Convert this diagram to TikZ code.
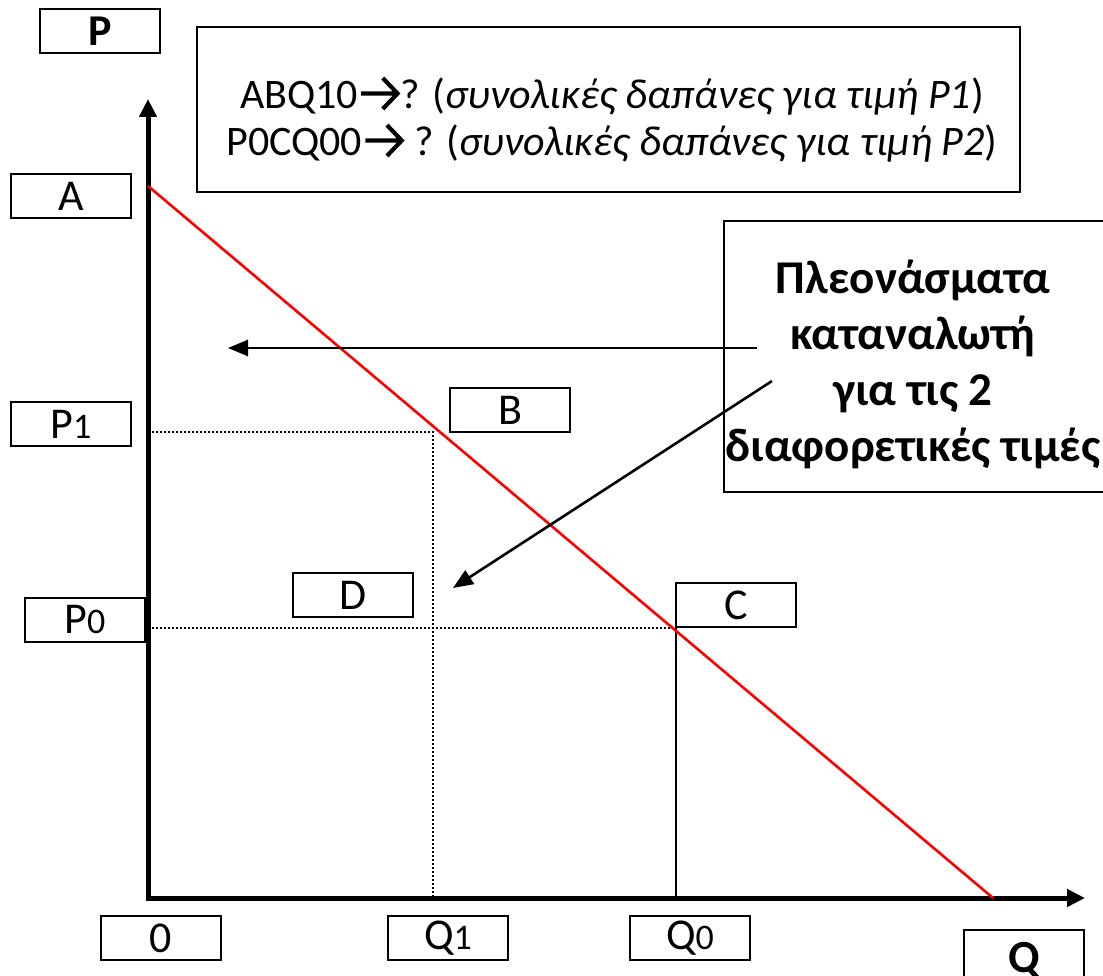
\documentclass[tikz,border=0pt]{standalone}
\usepackage{fontspec}
\setmainfont{Carlito}
\usetikzlibrary{arrows.meta}
\newcommand\sdig[1]{{\fontsize{36}{40}\selectfont #1}}
\newcommand\thickarr{\hspace{1pt}\tikz[baseline=0pt,x=1.4pt,y=1.4pt]{\draw[line width=4.2pt,line cap=butt,line join=miter] (0,10.5)--(26,10.5) (15.5,21.5)--(26,10.5)--(15.5,-0.5);}\hspace{1pt}}
\begin{document}
\begin{tikzpicture}[x=1pt,y=-1pt,
  lbl/.style={draw, line width=2pt, inner sep=0pt, minimum width=120pt, minimum height=44pt,
              font=\fontsize{44}{48}\selectfont},
  bigbox/.style={draw, line width=2pt, inner sep=0pt},
  axis/.style={line width=5pt, line join=miter, {Triangle[length=18pt,width=17pt]}-{Triangle[length=18pt,width=17pt]}},
  guide/.style={line width=1.6pt, dash pattern=on 2pt off 2pt},
  pointer/.style={line width=2.6pt, -{Triangle[length=20pt,width=16pt]}},
  demand/.style={red, line width=2.6pt}
]
\useasboundingbox (0,0) rectangle (1103,976);
\clip (0,0) rectangle (1103,976);

% axes
\coordinate (O) at (148,898);
\coordinate (Ytip) at (148,99);
\coordinate (Xtip) at (1085,898);
\draw[axis] (Ytip) -- (O) -- (Xtip);

% demand curve and reference points
\coordinate (Acur) at (148,186);
\coordinate (Qmax) at (993,898);
\coordinate (Bpt) at (433,432);
\coordinate (Cpt) at (676,628);
\coordinate (P1ax) at (148,432);
\coordinate (P0ax) at (148,628);
\coordinate (Q1ax) at (433,898);
\coordinate (Q0ax) at (676,898);

\draw[guide] (P1ax) -- (Bpt) -- (Q1ax);
\draw[guide] (P0ax) -- (Cpt);
\draw[line width=2pt] (Cpt) -- (Q0ax);
\draw[demand] (Acur) -- (Qmax);

% label boxes
\node[lbl, font=\fontsize{44}{48}\selectfont\bfseries] (Plab) at (100,31) {P};
\node[lbl] (Alab) at (71,196) {A};
\node[lbl] (P1lab) at (71,424) {P\sdig{1}};
\node[lbl] (Blab) at (510,410) {B};
\node[lbl] (Dlab) at (353,595) {D};
\node[lbl] (P0lab) at (85,620) {P\sdig{0}};
\node[lbl] (Clab) at (736,605) {C};
\node[lbl] (Zlab) at (161,938) {0};
\node[lbl] (Q1lab) at (448,938) {Q\sdig{1}};
\node[lbl] (Q0lab) at (690,938) {Q\sdig{0}};
\node[lbl, minimum height=60pt, font=\fontsize{46}{50}\selectfont\bfseries] (Qlab) at (1024,960) {Q};

% top info box
\node[bigbox, minimum width=823pt, minimum height=165pt] (info) at (608,110) {};
\node[font=\fontsize{42}{47}\selectfont, align=center] (infotext) at (612,119)
  {ABQ10\thickarr? (\textit{συνολικές δαπάνες για τιμή P1})\\
   P0CQ00\thickarr\ ? (\textit{συνολικές δαπάνες για τιμή P2})};

% consumer surplus box
\node[bigbox, anchor=north west, minimum width=400pt, minimum height=271pt] (surplus) at (723,220) {};
\node[font=\fontsize{47}{56}\selectfont\bfseries, align=center] (surplustext) at (913,364)
  {Πλεονάσματα\\καταναλωτή\\για τις 2\\διαφορετικές τιμές};

% pointers
\coordinate (s1) at (757,348);
\coordinate (t1) at (228,348);
\coordinate (s2) at (772,381);
\coordinate (t2) at (453,588);
\draw[pointer] (s1) -- (t1);
\draw[pointer] (s2) -- (t2);
\end{tikzpicture}
\end{document}
